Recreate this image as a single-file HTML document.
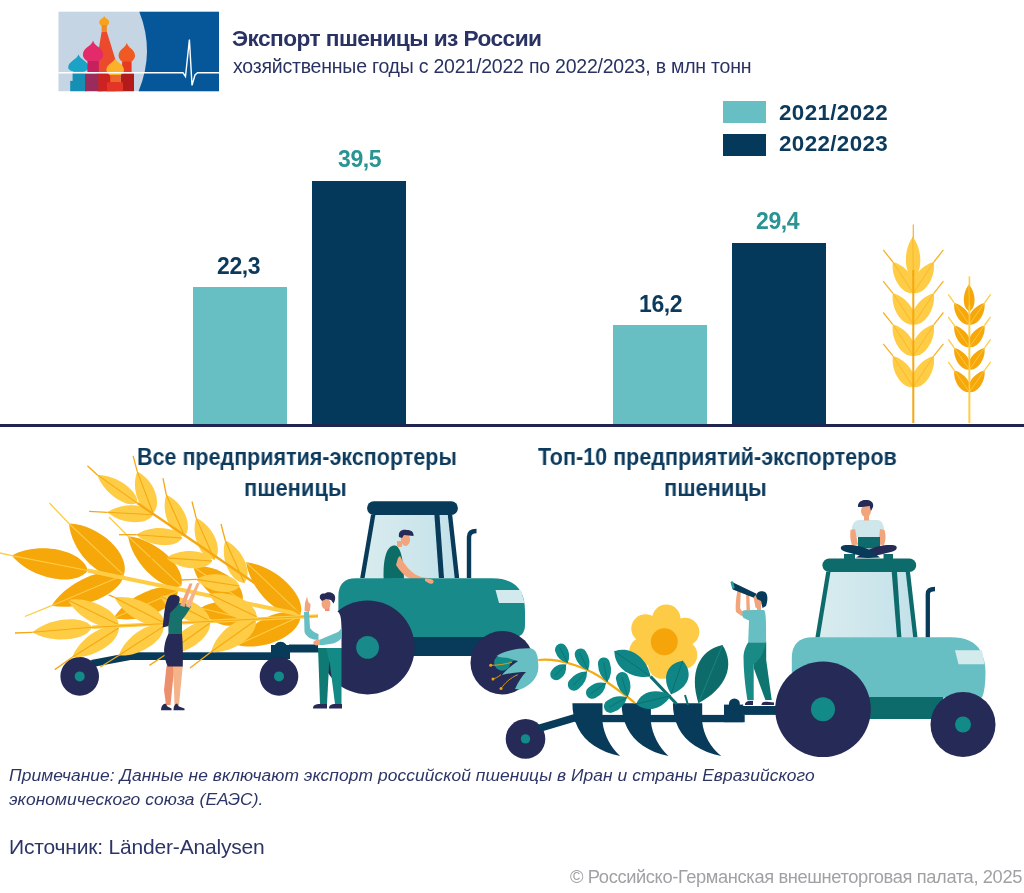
<!DOCTYPE html>
<html><head><meta charset="utf-8">
<style>
html,body{margin:0;padding:0;background:#fff;}
body{width:1024px;height:893px;position:relative;overflow:hidden;font-family:"Liberation Sans",sans-serif;}
.t{position:absolute;white-space:nowrap;line-height:1;will-change:transform;}
#title{left:232px;top:27.2px;font-size:22.7px;font-weight:bold;color:#2a3263;letter-spacing:-0.57px;}
#sub{left:233px;top:56.6px;font-size:19.5px;color:#2a3263;letter-spacing:-0.22px;}
.leg{left:779px;font-size:22.4px;font-weight:bold;color:#0b3a5c;letter-spacing:0.36px;}
.sw{position:absolute;left:723px;width:43px;height:22px;}
.bar{position:absolute;}
.lt{background:#67bfc4;}
.dk{background:#05395c;}
.val{font-size:23px;font-weight:bold;letter-spacing:-0.4px;}
.cat{font-size:23.5px;font-weight:bold;color:#0d3b5e;transform-origin:0 0;}
#note{left:9px;top:763.7px;font-size:17.4px;letter-spacing:0.07px;font-style:italic;color:#2d3566;line-height:23.5px;}
#src{left:9px;top:836px;font-size:21px;letter-spacing:-0.18px;color:#2d3566;}
#copy{left:570px;top:867.9px;font-size:18.3px;color:#a0a1a5;letter-spacing:-0.37px;}
svg{position:absolute;left:0;top:0;}
</style></head><body>
<svg width="1024" height="893" viewBox="0 0 1024 893">
<g>
<rect x="58.5" y="11.7" width="160.5" height="79.5" fill="#c6d5e4"/>
<path d="M139.3 11.7 Q155 51.5 138.6 91.2 L219 91.2 L219 11.7Z" fill="#06579a"/>
<path d="M78.5 54.2 C79.7 59.6 88.8 60.9 88.8 67.6 C88.8 70.1 84.2 71.8 83.1 71.8 L73.9 71.8 C72.8 71.8 68.2 70.1 68.2 67.6 C68.2 60.9 77.3 59.6 78.5 54.2Z" fill="#1aa3c6"/>
<rect x="72.6" y="71.8" width="12.8" height="9.2" fill="#1590b4"/><rect x="70.2" y="80.9" width="16.7" height="10.3" fill="#1590b4"/>
<path d="M101.6 31.9 L106.9 31.9 L115.4 59.5 L115.4 91.2 L96.9 91.2 L96.9 59.5Z" fill="#ec4a2c"/>
<path d="M104.2 15.7 C104.8 18.4 109.2 19 109.2 22.4 C109.2 24.4 107 25.7 106.5 25.7 L102 25.7 C101.5 25.7 99.2 24.4 99.2 22.4 C99.2 19 103.6 18.4 104.2 15.7Z" fill="#f7a21c"/>
<rect x="101.6" y="25" width="5.3" height="7" fill="#f08a28"/>
<path d="M93 40.4 C94.2 46.1 103.1 47.5 103.1 54.7 C103.1 58.7 98.6 61.4 97.5 61.4 L88.5 61.4 C87.4 61.4 82.9 58.7 82.9 54.7 C82.9 47.5 91.8 46.1 93 40.4Z" fill="#e32a6a"/>
<rect x="87.4" y="61" width="11.4" height="11" fill="#c72060"/><rect x="85" y="73.3" width="17.6" height="17.9" fill="#9a2c5c"/>
<path d="M126.8 42.8 C127.8 48 135 49.2 135 55.7 C135 59.4 131.3 61.9 130.5 61.9 L123.1 61.9 C122.3 61.9 118.6 59.4 118.6 55.7 C118.6 49.2 125.8 48 126.8 42.8Z" fill="#f05a22"/>
<rect x="122.1" y="61.5" width="9.5" height="10.5" fill="#e63a22"/><rect x="120.7" y="73.3" width="13.3" height="17.9" fill="#b31a1a"/>
<rect x="98.3" y="73.3" width="22" height="17.9" fill="#cc2222"/>
<path d="M115.2 58 C116.3 62.8 124 64 124 70 C124 73.4 120 75.6 119.2 75.6 L111.2 75.6 C110.4 75.6 106.4 73.4 106.4 70 C106.4 64 114.1 62.8 115.2 58Z" fill="#fbb12a"/>
<rect x="110.2" y="75" width="10.4" height="7.5" fill="#f0652a"/><rect x="106.9" y="82.3" width="16.1" height="8.9" fill="#e23526"/>
<polyline points="58.5,72.8 183,72.8 185.5,76.5 189.4,39.5 192,85.4 195,75 197.5,72.8 219,72.8" fill="none" stroke="#fff" stroke-width="1.4"/>
</g>
<line x1="913.3" y1="224.6" x2="913.3" y2="240" stroke="#f6b228" stroke-width="1.2"/>
<path d="M912.8 236.7 C903.3 249.2 903.6 273.2 913.3 278 C922.9 272.9 922.6 249 912.8 236.7Z" fill="#fecd45"/><line x1="912.8" y1="236.7" x2="913.3" y2="278" stroke="#f6b228" stroke-width="0.8"/>
<path d="M892.9 262 C890.4 277 902.2 295.1 913.3 293.2 C919.5 283.8 907.7 265.7 892.9 262Z" fill="#fecd45"/><line x1="892.9" y1="262" x2="913.3" y2="293.2" stroke="#f6b228" stroke-width="0.8"/><line x1="892.9" y1="262" x2="883.2" y2="249.9" stroke="#f6b228" stroke-width="1.3"/>
<path d="M933.8 262 C919 265.7 907.1 283.8 913.3 293.2 C924.4 295.1 936.3 277 933.8 262Z" fill="#fecd45"/><line x1="933.8" y1="262" x2="913.3" y2="293.2" stroke="#f6b228" stroke-width="0.8"/><line x1="933.8" y1="262" x2="943.4" y2="249.9" stroke="#f6b228" stroke-width="1.3"/>
<path d="M892.9 293.3 C890.4 308.3 902.2 326.4 913.3 324.5 C919.5 315.1 907.7 297 892.9 293.3Z" fill="#fecd45"/><line x1="892.9" y1="293.3" x2="913.3" y2="324.5" stroke="#f6b228" stroke-width="0.8"/><line x1="892.9" y1="293.3" x2="883.2" y2="281.2" stroke="#f6b228" stroke-width="1.3"/>
<path d="M933.8 293.3 C919 297 907.1 315.1 913.3 324.5 C924.4 326.4 936.3 308.3 933.8 293.3Z" fill="#fecd45"/><line x1="933.8" y1="293.3" x2="913.3" y2="324.5" stroke="#f6b228" stroke-width="0.8"/><line x1="933.8" y1="293.3" x2="943.4" y2="281.2" stroke="#f6b228" stroke-width="1.3"/>
<path d="M892.9 324.6 C890.4 339.6 902.2 357.7 913.3 355.8 C919.5 346.4 907.7 328.3 892.9 324.6Z" fill="#fecd45"/><line x1="892.9" y1="324.6" x2="913.3" y2="355.8" stroke="#f6b228" stroke-width="0.8"/><line x1="892.9" y1="324.6" x2="883.2" y2="312.5" stroke="#f6b228" stroke-width="1.3"/>
<path d="M933.8 324.6 C919 328.3 907.1 346.4 913.3 355.8 C924.4 357.7 936.3 339.6 933.8 324.6Z" fill="#fecd45"/><line x1="933.8" y1="324.6" x2="913.3" y2="355.8" stroke="#f6b228" stroke-width="0.8"/><line x1="933.8" y1="324.6" x2="943.4" y2="312.5" stroke="#f6b228" stroke-width="1.3"/>
<path d="M892.9 355.9 C890.4 370.9 902.2 389 913.3 387.1 C919.5 377.7 907.7 359.6 892.9 355.9Z" fill="#fecd45"/><line x1="892.9" y1="355.9" x2="913.3" y2="387.1" stroke="#f6b228" stroke-width="0.8"/><line x1="892.9" y1="355.9" x2="883.2" y2="343.8" stroke="#f6b228" stroke-width="1.3"/>
<path d="M933.8 355.9 C919 359.6 907.1 377.7 913.3 387.1 C924.4 389 936.3 370.9 933.8 355.9Z" fill="#fecd45"/><line x1="933.8" y1="355.9" x2="913.3" y2="387.1" stroke="#f6b228" stroke-width="0.8"/><line x1="933.8" y1="355.9" x2="943.4" y2="343.8" stroke="#f6b228" stroke-width="1.3"/>
<line x1="913.3" y1="270" x2="913.3" y2="423" stroke="#f6a70a" stroke-width="2"/>
<line x1="969.4" y1="276.4" x2="969.4" y2="423" stroke="#fecd45" stroke-width="1.6"/>
<path d="M968.9 284.8 C961.9 292.9 962.1 308.3 969.4 311.3 C976.5 308 976.2 292.6 968.9 284.8Z" fill="#f6a70a"/><line x1="968.9" y1="284.8" x2="969.4" y2="311.3" stroke="#fecd45" stroke-width="0.8"/>
<path d="M954.3 302.9 C952.8 313.6 961.6 326.1 969.4 324.5 C973.6 317.7 964.8 305.2 954.3 302.9Z" fill="#f6a70a"/><line x1="954.3" y1="302.9" x2="969.4" y2="324.5" stroke="#fecd45" stroke-width="0.8"/><line x1="954.3" y1="302.9" x2="948.2" y2="294.4" stroke="#fecd45" stroke-width="1.3"/>
<path d="M984.5 302.9 C974 305.2 965.2 317.7 969.4 324.5 C977.2 326.1 986 313.6 984.5 302.9Z" fill="#f6a70a"/><line x1="984.5" y1="302.9" x2="969.4" y2="324.5" stroke="#fecd45" stroke-width="0.8"/><line x1="984.5" y1="302.9" x2="990.6" y2="294.4" stroke="#fecd45" stroke-width="1.3"/>
<path d="M954.3 325.4 C952.8 336.1 961.6 348.6 969.4 347 C973.6 340.2 964.8 327.7 954.3 325.4Z" fill="#f6a70a"/><line x1="954.3" y1="325.4" x2="969.4" y2="347" stroke="#fecd45" stroke-width="0.8"/><line x1="954.3" y1="325.4" x2="948.2" y2="316.9" stroke="#fecd45" stroke-width="1.3"/>
<path d="M984.5 325.4 C974 327.7 965.2 340.2 969.4 347 C977.2 348.6 986 336.1 984.5 325.4Z" fill="#f6a70a"/><line x1="984.5" y1="325.4" x2="969.4" y2="347" stroke="#fecd45" stroke-width="0.8"/><line x1="984.5" y1="325.4" x2="990.6" y2="316.9" stroke="#fecd45" stroke-width="1.3"/>
<path d="M954.3 347.9 C952.8 358.6 961.6 371.1 969.4 369.5 C973.6 362.7 964.8 350.2 954.3 347.9Z" fill="#f6a70a"/><line x1="954.3" y1="347.9" x2="969.4" y2="369.5" stroke="#fecd45" stroke-width="0.8"/><line x1="954.3" y1="347.9" x2="948.2" y2="339.4" stroke="#fecd45" stroke-width="1.3"/>
<path d="M984.5 347.9 C974 350.2 965.2 362.7 969.4 369.5 C977.2 371.1 986 358.6 984.5 347.9Z" fill="#f6a70a"/><line x1="984.5" y1="347.9" x2="969.4" y2="369.5" stroke="#fecd45" stroke-width="0.8"/><line x1="984.5" y1="347.9" x2="990.6" y2="339.4" stroke="#fecd45" stroke-width="1.3"/>
<path d="M954.3 370.4 C952.8 381.1 961.6 393.6 969.4 392 C973.6 385.2 964.8 372.7 954.3 370.4Z" fill="#f6a70a"/><line x1="954.3" y1="370.4" x2="969.4" y2="392" stroke="#fecd45" stroke-width="0.8"/><line x1="954.3" y1="370.4" x2="948.2" y2="361.9" stroke="#fecd45" stroke-width="1.3"/>
<path d="M984.5 370.4 C974 372.7 965.2 385.2 969.4 392 C977.2 393.6 986 381.1 984.5 370.4Z" fill="#f6a70a"/><line x1="984.5" y1="370.4" x2="969.4" y2="392" stroke="#fecd45" stroke-width="0.8"/><line x1="984.5" y1="370.4" x2="990.6" y2="361.9" stroke="#fecd45" stroke-width="1.3"/>
<line x1="969.4" y1="305" x2="969.4" y2="423" stroke="#fecd45" stroke-width="1.6"/>
<path d="M93 667 L130.6 660 L130.6 652.5 L91 660Z" fill="#083a5a"/>
<rect x="130" y="652.3" width="150" height="7.7" fill="#083a5a"/>
<rect x="271" y="645" width="19" height="14" fill="#083a5a"/><circle cx="280.6" cy="649" r="7.2" fill="#083a5a"/>
<rect x="289" y="644.5" width="33" height="8" fill="#083a5a"/>
<circle cx="79.7" cy="676.4" r="19.3" fill="#252a56"/><circle cx="79.7" cy="676.4" r="5" fill="#128a88"/>
<circle cx="279" cy="676.4" r="19.3" fill="#252a56"/><circle cx="279" cy="676.4" r="5" fill="#128a88"/>
<path d="M11.8 555.6 C30.9 579.1 74.9 587.8 87.8 570.5 C82.4 549.7 38.3 541 11.8 555.6Z" fill="#f6a70a"/><line x1="11.8" y1="555.6" x2="87.8" y2="570.5" stroke="#fdcb45" stroke-width="1.1"/><line x1="11.8" y1="555.6" x2="0" y2="553" stroke="#fdcb45" stroke-width="1.3"/>
<path d="M69 523.5 C71.6 553.7 103.4 583.7 123.8 575.2 C131.1 554.3 99.3 524.3 69 523.5Z" fill="#f6a70a"/><line x1="69" y1="523.5" x2="123.8" y2="575.2" stroke="#fdcb45" stroke-width="1.1"/><line x1="69" y1="523.5" x2="49.4" y2="503" stroke="#fdcb45" stroke-width="1.3"/>
<path d="M51.5 605.7 C79.6 611.6 121.5 593.8 123.7 575 C108.6 563.6 66.7 581.4 51.5 605.7Z" fill="#f6a70a"/><line x1="51.5" y1="605.7" x2="123.7" y2="575" stroke="#fdcb45" stroke-width="1.1"/><line x1="51.5" y1="605.7" x2="24.9" y2="616.5" stroke="#fdcb45" stroke-width="1.3"/>
<path d="M128.1 536.3 C132.3 563.8 163.2 592.7 181.3 586.1 C186.7 567.6 155.8 538.7 128.1 536.3Z" fill="#f6a70a"/><line x1="128.1" y1="536.3" x2="181.3" y2="586.1" stroke="#fdcb45" stroke-width="1.1"/><line x1="128.1" y1="536.3" x2="109" y2="517" stroke="#fdcb45" stroke-width="1.3"/>
<path d="M113.7 618.1 C139.1 624.4 176.4 608.7 178 591 C164.2 579.8 126.9 595.5 113.7 618.1Z" fill="#f6a70a"/><line x1="113.7" y1="618.1" x2="178" y2="591" stroke="#fdcb45" stroke-width="1.1"/><line x1="113.7" y1="618.1" x2="95" y2="627" stroke="#fdcb45" stroke-width="1.3"/>
<path d="M193.4 566.7 C198.8 590.5 227.3 610.4 242.6 601 C246.1 583.4 217.6 563.5 193.4 566.7Z" fill="#f6a70a"/><line x1="193.4" y1="566.7" x2="242.6" y2="601" stroke="#fdcb45" stroke-width="1.1"/>
<path d="M200.4 608 C210.1 625.7 235.6 631.8 244.4 618.6 C242.6 602.8 217.1 596.7 200.4 608Z" fill="#f6a70a"/><line x1="200.4" y1="608" x2="244.4" y2="618.6" stroke="#fdcb45" stroke-width="1.1"/>
<path d="M246.1 562.3 C250.1 590.8 281.7 620.9 300.6 614.2 C306.4 595 274.8 564.9 246.1 562.3Z" fill="#f6a70a"/><line x1="246.1" y1="562.3" x2="300.6" y2="614.2" stroke="#fdcb45" stroke-width="1.1"/>
<path d="M237.3 644.9 C263.4 651.9 300.1 635.1 300.6 616 C285.9 603.8 249.2 620.6 237.3 644.9Z" fill="#f6a70a"/><line x1="237.3" y1="644.9" x2="300.6" y2="616" stroke="#fdcb45" stroke-width="1.1"/>
<path d="M87.8 570.5 L300.6 614.5" stroke="#fecd45" stroke-width="4" fill="none"/>
<path d="M97.4 474.9 C103 492.3 126.2 508.7 137.3 503.1 C138.9 490.7 115.7 474.4 97.4 474.9Z" fill="#fecd45"/><line x1="97.4" y1="474.9" x2="137.3" y2="503.1" stroke="#f5a814" stroke-width="1.1"/><line x1="97.4" y1="474.9" x2="87.4" y2="465.8" stroke="#f5a814" stroke-width="1.3"/>
<path d="M137.3 471.6 C130.4 488.4 139.5 512.5 153 513 C162.8 503.6 153.7 479.6 137.3 471.6Z" fill="#fecd45"/><line x1="137.3" y1="471.6" x2="153" y2="513" stroke="#f5a814" stroke-width="1.1"/><line x1="137.3" y1="471.6" x2="133.1" y2="455.8" stroke="#f5a814" stroke-width="1.3"/>
<path d="M107.4 512.3 C120.5 524.4 146.9 525.8 153 514.8 C148.2 503.2 121.7 501.7 107.4 512.3Z" fill="#fecd45"/><line x1="107.4" y1="512.3" x2="153" y2="514.8" stroke="#f5a814" stroke-width="1.1"/><line x1="107.4" y1="512.3" x2="89.1" y2="511.4" stroke="#f5a814" stroke-width="1.3"/>
<path d="M166.3 494.8 C160.4 512.3 171 536.4 184.6 536.3 C193.8 526.3 183.2 502.2 166.3 494.8Z" fill="#fecd45"/><line x1="166.3" y1="494.8" x2="184.6" y2="536.3" stroke="#f5a814" stroke-width="1.1"/><line x1="166.3" y1="494.8" x2="163" y2="478.2" stroke="#f5a814" stroke-width="1.3"/>
<path d="M136.4 534.7 C149.3 547 175.7 548.9 182 538 C177.3 526.3 150.9 524.4 136.4 534.7Z" fill="#fecd45"/><line x1="136.4" y1="534.7" x2="182" y2="538" stroke="#f5a814" stroke-width="1.1"/><line x1="136.4" y1="534.7" x2="119" y2="534.7" stroke="#f5a814" stroke-width="1.3"/>
<path d="M196.2 518.1 C190.3 535.6 200.9 559.7 214.5 559.6 C223.7 549.6 213.1 525.5 196.2 518.1Z" fill="#fecd45"/><line x1="196.2" y1="518.1" x2="214.5" y2="559.6" stroke="#f5a814" stroke-width="1.1"/><line x1="196.2" y1="518.1" x2="192" y2="501.5" stroke="#f5a814" stroke-width="1.3"/>
<path d="M166.3 557.9 C179.2 570.2 205.7 572 212 561 C207.3 549.3 180.8 547.5 166.3 557.9Z" fill="#fecd45"/><line x1="166.3" y1="557.9" x2="212" y2="561" stroke="#f5a814" stroke-width="1.1"/><line x1="166.3" y1="557.9" x2="150" y2="558" stroke="#f5a814" stroke-width="1.3"/>
<path d="M225.3 540.5 C219.6 558.3 230.6 582.8 244.3 582.8 C253.4 572.6 242.4 548.1 225.3 540.5Z" fill="#fecd45"/><line x1="225.3" y1="540.5" x2="244.3" y2="582.8" stroke="#f5a814" stroke-width="1.1"/><line x1="225.3" y1="540.5" x2="221" y2="524" stroke="#f5a814" stroke-width="1.3"/>
<path d="M196.2 579.4 C207.4 592.6 232.5 596.4 239.4 586 C235.9 574 210.9 570.1 196.2 579.4Z" fill="#fecd45"/><line x1="196.2" y1="579.4" x2="239.4" y2="586" stroke="#f5a814" stroke-width="1.1"/><line x1="196.2" y1="579.4" x2="180" y2="580" stroke="#f5a814" stroke-width="1.3"/>
<path d="M137.3 503.1 L300 614" stroke="#f5a814" stroke-width="2.4" fill="none"/>
<path d="M32.4 632.3 C51.4 644 86 641.1 92.1 627.3 C83.8 614.7 49.2 617.6 32.4 632.3Z" fill="#fecd45"/><line x1="32.4" y1="632.3" x2="92.1" y2="627.3" stroke="#f5a814" stroke-width="1.1"/><line x1="32.4" y1="632.3" x2="15" y2="633" stroke="#f5a814" stroke-width="1.3"/>
<path d="M68 599.9 C77.7 618.6 107.1 633 118.7 624.8 C118.1 610.6 88.7 596.2 68 599.9Z" fill="#fecd45"/><line x1="68" y1="599.9" x2="118.7" y2="624.8" stroke="#f5a814" stroke-width="1.1"/>
<path d="M72.2 657.2 C92.8 659 119.7 642.1 118.7 628 C106.5 620.9 79.5 637.9 72.2 657.2Z" fill="#fecd45"/><line x1="72.2" y1="657.2" x2="118.7" y2="628" stroke="#f5a814" stroke-width="1.1"/><line x1="72.2" y1="657.2" x2="54.8" y2="669.6" stroke="#f5a814" stroke-width="1.3"/>
<path d="M114.5 597.4 C123.7 616.2 152.6 631.1 164.3 623.1 C164 608.9 135.2 594 114.5 597.4Z" fill="#fecd45"/><line x1="114.5" y1="597.4" x2="164.3" y2="623.1" stroke="#f5a814" stroke-width="1.1"/><line x1="114.5" y1="597.4" x2="108.7" y2="594.9" stroke="#f5a814" stroke-width="1.3"/>
<path d="M118.7 655.5 C138.9 657.2 164.9 640.3 163.5 626.4 C151.3 619.4 125.3 636.3 118.7 655.5Z" fill="#fecd45"/><line x1="118.7" y1="655.5" x2="163.5" y2="626.4" stroke="#f5a814" stroke-width="1.1"/><line x1="118.7" y1="655.5" x2="100.4" y2="667" stroke="#f5a814" stroke-width="1.3"/>
<path d="M160 596 C169.4 614.7 198.4 629.2 210 621 C209.6 606.8 180.6 592.3 160 596Z" fill="#fecd45"/><line x1="160" y1="596" x2="210" y2="621" stroke="#f5a814" stroke-width="1.1"/><line x1="160" y1="596" x2="155" y2="593" stroke="#f5a814" stroke-width="1.3"/>
<path d="M165 655 C185.7 655.6 211.8 637 210 623 C197.4 616.7 171.3 635.2 165 655Z" fill="#fecd45"/><line x1="165" y1="655" x2="210" y2="623" stroke="#f5a814" stroke-width="1.1"/><line x1="165" y1="655" x2="149.4" y2="665.4" stroke="#f5a814" stroke-width="1.3"/>
<path d="M209.2 594 C217.7 612.7 245.3 626 256.7 616.8 C256.7 602.2 229.2 588.9 209.2 594Z" fill="#fecd45"/><line x1="209.2" y1="594" x2="256.7" y2="616.8" stroke="#f5a814" stroke-width="1.1"/>
<path d="M211 652 C232.5 653.9 258.5 635.5 255.8 620.3 C242.4 612.7 216.4 631.1 211 652Z" fill="#fecd45"/><line x1="211" y1="652" x2="255.8" y2="620.3" stroke="#f5a814" stroke-width="1.1"/><line x1="211" y1="652" x2="190" y2="668" stroke="#f5a814" stroke-width="1.3"/>
<path d="M92.1 627.3 L318 616" stroke="#fecd45" stroke-width="3.5" fill="none"/><path d="M92.1 627.3 L318 616" stroke="#f5a814" stroke-width="1" fill="none"/>
<defs><linearGradient id="gl" x1="0" x2="1" y1="0" y2="0"><stop offset="0" stop-color="#d9ecee"/><stop offset="1" stop-color="#c3e1ea"/></linearGradient></defs>
<path d="M373 514 L450 514 L457.5 578 L362 578Z" fill="url(#gl)"/>
<path d="M371 514.7 L375.4 514.7 L364.6 578 L360.2 578Z" fill="#083a5a"/>
<path d="M434.4 514.7 L439.5 514.7 L444 578 L438.9 578Z" fill="#083a5a"/>
<path d="M447.8 514.7 L452.2 514.7 L459.2 578 L454.7 578Z" fill="#083a5a"/>
<rect x="367.1" y="501.3" width="90.8" height="13.6" rx="6.6" fill="#083a5a"/>
<path d="M469 578 L469 537 Q469 531 476.5 531" stroke="#083a5a" stroke-width="4.4" fill="none"/>
<path d="M383.6 579 C383 560 386 547 393.5 545.5 C399 545 403 552 404 578.8Z" fill="#0c6d66"/>
<path d="M398 558 L400 556 C410 575 420 578 430 578 L433 582 C420 585 405 580 396 565Z" fill="#f2a57d"/>
<rect x="397" y="541" width="5" height="6" fill="#f2a57d"/>
<ellipse cx="405.5" cy="539.5" rx="4.6" ry="6.5" fill="#f2a57d"/>
<path d="M399 537 C398 531 402 529 407 530 C411 530 414 532 413.5 536 L404 535 L402 538Z" fill="#252a56"/>
<path d="M338.4 640 L338.4 596 Q338.4 578.2 356 578.2 L492 578.2 Q525 578.2 525 611 L525 625 Q525 637.5 512 637.5 L338.4 637.5Z" fill="#178a89"/>
<path d="M425 578.5 C428 578.5 431 578.5 433 580 C434.5 582 433 584 431 583.8 C429 583.5 427 582 425 581Z" fill="#f2a57d"/>
<path d="M495.5 590 L521 590 L524.5 603 L499 603Z" fill="#d2e9ed"/>
<rect x="400" y="637" width="84" height="19" fill="#083a5a"/>
<circle cx="367.6" cy="647.4" r="47" fill="#252a56"/><circle cx="367.6" cy="647.4" r="11.4" fill="#178a89"/>
<circle cx="502.2" cy="662.7" r="31.7" fill="#252a56"/><circle cx="502.2" cy="662.7" r="8" fill="#178a89"/>
<path d="M166.5 666 L164 690 L166 705 L170.5 705 L173 680 L175 666Z" fill="#ec8f6c"/>
<path d="M173 666 L174 690 L174.5 705 L179 705 L181 684 L182.8 666Z" fill="#f5b389"/>
<path d="M161 710.3 C161 706.5 162.5 704 165.5 703.5 L167.5 706.5 L171.5 708.5 L171.5 710.3Z" fill="#252a56"/>
<path d="M173.5 710.3 C173.5 706.5 174.5 704 177 703.5 L179 706.5 L184.5 708.5 L184.5 710.3Z" fill="#252a56"/>
<path d="M168.5 633.5 L182 633.5 C183 645 183 655 182.8 666.6 L167.6 666.6 C165 660 163.5 652 164.3 647.3 C165 641 167 637 168.5 633.5Z" fill="#252a56"/>
<path d="M168.5 634 L168 610 C169 604 173 602.5 178 603 L185 603.5 L191.2 606.5 L186.5 614 L182 620 L182 634Z" fill="#16726a"/>
<path d="M180 605.5 L189.5 583.5 L192.5 583.5 L184.5 607Z" fill="#f2a57d"/>
<path d="M185.5 606 L197 583 L200 582.5 L190 608Z" fill="#f5b389"/>
<path d="M162.6 627.5 C164 617 164.5 603 168.5 597 C171 594 176 594 179 596.5 C180.5 599 179.5 603 177 606 L170 613 L168.5 626Z" fill="#252a56"/>
<path d="M313 708.4 C313 705 316 704 320 704 L327 704 L327 708.4Z M329 708.4 C329 705 332 704 335 704 L342 704 L342 708.4Z" fill="#252a56"/>
<path d="M318 647 L330 647 L327 704 L320 704Z" fill="#0f7a74"/>
<path d="M326 647 L341.5 647 L341.5 704 L335 704 L330 665Z" fill="#138a86"/>
<path d="M318.5 612 C321 610 326 609.5 330 610 L336 610.5 C340 612 341.5 616 341.5 630 L341.5 648 L318 648 Z" fill="#ffffff"/>
<path d="M304 612 L309 611 L310 628 C312 631 315 633 318.5 634 L318.5 640 C312 640 306 637 304.5 632Z" fill="#67bfc3"/>
<path d="M319 640 L338 632 C340 630 341.5 629 341.5 626 L341.5 638 C338 643 330 645 319 645Z" fill="#67bfc3"/>
<path d="M313 643 C314 640 317 639.5 320 640 L320 645 L316 645.5Z" fill="#f2a57d"/>
<path d="M304.5 611 L305 603 L307 596.5 L308.3 602 L310.5 604 L310 611Z" fill="#f2a57d"/>
<rect x="325" y="606" width="4.5" height="5" fill="#f08a7a"/><ellipse cx="326" cy="603.8" rx="4.5" ry="5.5" fill="#f2a57d"/>
<path d="M320 598.5 C319 595 321.5 593 325 593.5 C327 591.5 331.5 591.8 333.5 594 C336 596 335.5 600.5 333.5 603.5 L331 600 L326 599 L322 601Z" fill="#252a56"/>
<circle cx="525.5" cy="738.9" r="19.8" fill="#252a56"/><circle cx="525.5" cy="738.9" r="4.7" fill="#128a88"/>
<path d="M537 725 L576 713.5 L577 721 L540 732Z" fill="#083a5a"/>
<rect x="574.7" y="714.9" width="170" height="7.3" fill="#083a5a"/>
<rect x="724" y="704.6" width="19.2" height="17.6" fill="#083a5a"/><circle cx="734.4" cy="704" r="5.5" fill="#083a5a"/>
<rect x="742" y="706" width="40" height="8.9" fill="#083a5a"/>
<path d="M572.4 703.2 L602.5 703.2 L602.5 722 C604 735 610.5 747 620.1 756 C600.1 752 585 742 578 728 C574 720 572.4 712 572.4 703.2Z" fill="#083a5a"/>
<path d="M621.6 703.2 L650.9 703.2 L650.9 722 C652.4 735 658.9 747 668.5 756 C648.5 752 634.2 742 627.2 728 C623.2 720 621.6 712 621.6 703.2Z" fill="#083a5a"/>
<path d="M672.9 703.2 L702.2 703.2 L702.2 722 C703.7 735 710.2 747 721.2 756 C701.2 752 685.5 742 678.5 728 C674.5 720 672.9 712 672.9 703.2Z" fill="#083a5a"/>
<circle cx="666.3" cy="618.8" r="14.2" fill="#fdcb45"/>
<circle cx="685.1" cy="632" r="14.2" fill="#fdcb45"/>
<circle cx="683.1" cy="654.9" r="14.2" fill="#fdcb45"/>
<circle cx="662.3" cy="664.6" r="14.2" fill="#fdcb45"/>
<circle cx="643.5" cy="651.4" r="14.2" fill="#fdcb45"/>
<circle cx="645.5" cy="628.5" r="14.2" fill="#fdcb45"/>
<circle cx="664.3" cy="641.7" r="21" fill="#fdcb45"/>
<circle cx="664.3" cy="641.7" r="13.5" fill="#f5a50a"/>
<path d="M538.3 660 C560 658 590 668 607 682 C618 690 628 697 635 703" stroke="#f2ab12" stroke-width="2.2" fill="none"/>
<path d="M567.6 663 Q571.5 653.9 566.1 646.4 A6 6 0 0 0 555.4 651.7 Q558 660.5 567.6 663Z" fill="#0f8a89"/><line x1="567.6" y1="663" x2="560" y2="647.6" stroke="#0b6e6e" stroke-width="0.8"/>
<path d="M566 664.5 Q556.5 663.4 552 670.1 A6 6 0 0 0 560.5 678.6 Q567.1 674 566 664.5Z" fill="#0f8a89"/><line x1="566" y1="664.5" x2="554.8" y2="675.8" stroke="#0b6e6e" stroke-width="0.8"/>
<path d="M588.1 670.3 Q591.8 660.6 585.9 651.6 A6 6 0 0 0 575.1 656.8 Q578.3 667.1 588.1 670.3Z" fill="#0f8a89"/><line x1="588.1" y1="670.3" x2="579.9" y2="653.1" stroke="#0b6e6e" stroke-width="0.8"/>
<path d="M587 671.5 Q576.3 671.2 569.6 680.1 A6.2 6.2 0 0 0 578.4 688.9 Q587.3 682.2 587 671.5Z" fill="#0f8a89"/><line x1="587" y1="671.5" x2="573.1" y2="685.4" stroke="#0b6e6e" stroke-width="0.8"/>
<path d="M607.2 682 Q613.3 673.3 609.8 662.4 A6 6 0 0 0 598 664.6 Q598.5 676 607.2 682Z" fill="#0f8a89"/><line x1="607.2" y1="682" x2="603.7" y2="662.5" stroke="#0b6e6e" stroke-width="0.8"/>
<path d="M606 683 Q595.9 680.6 588.6 687.5 A6.2 6.2 0 0 0 595.8 697.7 Q604.8 693.4 606 683Z" fill="#0f8a89"/><line x1="606" y1="683" x2="590.9" y2="693.6" stroke="#0b6e6e" stroke-width="0.8"/>
<path d="M627.7 696.7 Q633 687.1 628.2 676.4 A6.2 6.2 0 0 0 616.2 680 Q618 691.6 627.7 696.7Z" fill="#0f8a89"/><line x1="627.7" y1="696.7" x2="621.9" y2="677.1" stroke="#0b6e6e" stroke-width="0.8"/>
<path d="M627 697.5 Q616.5 693.9 607.4 700.6 A6.5 6.5 0 0 0 613.5 712.1 Q624.1 708.2 627 697.5Z" fill="#0f8a89"/><line x1="627" y1="697.5" x2="609.2" y2="707" stroke="#0b6e6e" stroke-width="0.8"/>
<path d="M650.6 676.6 L676.6 704" stroke="#0e7171" stroke-width="3"/>
<path d="M614.4 651.3 C614.5 668.1 630.8 679.5 650.6 676.6 C646.5 657 630.2 645.7 614.4 651.3Z" fill="#0f8585"/><line x1="614.4" y1="651.3" x2="650.6" y2="676.6" stroke="#0b6a6a" stroke-width="0.8"/>
<path d="M682.7 660.8 C666.3 663.4 661.1 678.4 671.1 694.3 C688.8 688 694 673 682.7 660.8Z" fill="#0f8585"/><line x1="682.7" y1="660.8" x2="671.1" y2="694.3" stroke="#0b6a6a" stroke-width="0.8"/>
<path d="M636.2 704 C646.5 713.2 662.1 709.5 671 695.7 C656.9 687.4 641.2 691.1 636.2 704Z" fill="#0f8585"/><line x1="636.2" y1="704" x2="671" y2="695.7" stroke="#0b6a6a" stroke-width="0.8"/>
<path d="M685 695 L688 705" stroke="#0e7171" stroke-width="2"/>
<path d="M722.4 645.1 C698.6 650.2 689 673.5 698.4 703.2 C726 688.8 735.6 665.5 722.4 645.1Z" fill="#0d6b6a"/><line x1="722.4" y1="645.1" x2="698.4" y2="703.2" stroke="#1a8c8a" stroke-width="0.8"/>
<path d="M745 705 C745 702 747 701 750 701 L753 701 L753 705Z M761.5 705 C761.5 702 764 701.8 767 701.8 L774 702.5 L774 705Z" fill="#252a56"/>
<path d="M766.2 642.3 L766.2 660 L771.7 700 L765.4 700 L753.7 668 L753 650Z" fill="#0e7570"/>
<path d="M748.2 642.3 L766.2 642.3 C764 652 760 660 753.7 664.3 L753.7 700.3 L747.4 700.3 C745 685 743.5 670 743.5 656.4 C744 650 746 646 748.2 642.3Z" fill="#1a8a86"/>
<path d="M740.4 612.6 C742 610.5 745 610 748.2 610 L764 610 C766 612 766.2 620 766.2 642.3 L748.2 642.3 L749 620.4 L743.5 618Z" fill="#67bfc3"/>
<path d="M737.8 589 L741 589 L740 608 L743 613 L741.5 616 L736 612 C735 605 736.5 595 737.8 589Z" fill="#f2a57d"/>
<path d="M746 590 L749 590 L750 610.5 L746.5 610.5Z" fill="#f2a57d"/>
<path d="M731 581.5 L756.5 593.8 L754.5 598 L732.8 589.5Z" fill="#083a5a"/><path d="M730.4 582 L732.4 589 L734.8 588 L733 581.3Z" fill="#2a9d9a"/>
<path d="M753.7 598 C754 595 757 595 760 596 L761.5 604 L759 609.4 L755.5 607.5Z" fill="#f2a57d"/>
<rect x="757" y="605" width="4" height="5" fill="#f2a57d"/>
<path d="M756 596 C757 591 762 590.5 765 592 C768 594 768 600 766 606 L762.5 608 L761 601 L757 599Z" fill="#083a5a"/>
<path d="M828 571.8 L908 571.8 L915.5 637.5 L817.5 637.5Z" fill="url(#gl)"/>
<path d="M826.2 571.8 L830.5 571.8 L819.7 637.5 L815.4 637.5Z" fill="#0e6b6b"/>
<path d="M891.7 571.8 L897 571.8 L901.4 637.5 L897 637.5Z" fill="#0e6b6b"/>
<path d="M905.7 571.8 L910 571.8 L917.5 637.5 L913.2 637.5Z" fill="#0e6b6b"/>
<rect x="822.4" y="558.5" width="93.8" height="13.6" rx="6.8" fill="#0e6b6b"/>
<path d="M927.8 637.5 L927.8 594 Q927.8 589 935 589" stroke="#083a5a" stroke-width="4.3" fill="none"/>
<path d="M791.8 697.5 L791.8 658 Q791.8 637.3 813 637.3 L951 637.3 Q972 637.3 980 650 Q985.5 660 985.5 672 Q985.5 690 982 697.5Z" fill="#67bfc3"/>
<path d="M955 650.2 L982 650.2 L984.5 664.2 L958.5 664.2Z" fill="#d4ebee"/>
<rect x="869" y="697" width="74.3" height="22" fill="#0e6b6b"/>
<circle cx="823" cy="709.3" r="47.8" fill="#252a56"/><circle cx="823" cy="709.3" r="12" fill="#128a88"/>
<circle cx="963" cy="724.5" r="32.5" fill="#252a56"/><circle cx="963" cy="724.5" r="8" fill="#128a88"/>
<rect x="844" y="554" width="11" height="5.5" fill="#0e6b6b"/><rect x="883.5" y="554" width="9.5" height="5.5" fill="#0e6b6b"/>
<path d="M851.3 537 C851 526 853 520 860 520 L877 520 C883 520 885 527 884 537Z" fill="#cfe6ea"/>
<path d="M850.5 530 L855 529 L858 544.8 L852 545 C850 540 850 535 850.5 530Z" fill="#f2a57d"/>
<path d="M880 529 L884.5 530 C886 535 886 540 884 545 L878.5 544.8Z" fill="#f2a57d"/>
<rect x="858" y="537" width="22" height="11.5" fill="#0e6b6b"/>
<path d="M895 545.5 C888 544 876 546 868 550 L856 557.5 L868 558 C876 555 889 553 894 551 C897.5 549.5 897.5 546.5 895 545.5Z" fill="#252a56"/>
<path d="M843 545.5 C850 544 862 546 870 550 L880 557.5 L868 558 C860 555 848 553 843.5 551 C840 549.5 840 546.5 843 545.5Z" fill="#083a5a"/>
<ellipse cx="866" cy="511" rx="5" ry="6" fill="#f2a57d"/><rect x="864" y="515" width="5" height="5.5" fill="#f2a57d"/>
<path d="M858 507 C857.5 502 862 499.5 866 500 C871 500 874 502.5 873 507 L871 511 L869.5 506 L862 507Z" fill="#252a56"/>
<path d="M496.6 656 C505 650 520 648 530 648.3 C537 649 538.5 657 538.3 668 C538 678 530 686 520 689.4 L515 689 C518 682 522 676 526 672 C518 672 510 673 502 675 C506 670 512 665 518 661 C512 660 504 659 496.6 656Z" fill="#67bfc3"/>
<path d="M496 658 C502 657 510 658 514 660 C510 664 505 668 500 670 C497 666 496 662 496 658Z" fill="#128a88"/>
<path d="M512 662.3 C505 664 498 665.5 490.7 665.2 M501 674.7 C498 677 495 678.5 493 679 M517.8 674.7 C510 678 505 683 501 688.6" stroke="#e8a317" stroke-width="0.9" fill="none"/>
<circle cx="490.7" cy="665.2" r="1.5" fill="#e8a317"/><circle cx="493" cy="679" r="1.5" fill="#e8a317"/><circle cx="501" cy="688.6" r="1.5" fill="#e8a317"/>
</svg>

<div class="t" id="title">Экспорт пшеницы из России</div>
<div class="t" id="sub">хозяйственные годы с 2021/2022 по 2022/2023, в млн тонн</div>
<div class="sw lt" style="top:101px"></div>
<div class="sw dk" style="top:133.5px"></div>
<div class="t leg" style="top:101.6px">2021/2022</div>
<div class="t leg" style="top:132.8px">2022/2023</div>

<div class="bar lt" style="left:193px;top:287px;width:94px;height:139px"></div>
<div class="bar dk" style="left:312px;top:181px;width:94px;height:245px"></div>
<div class="bar lt" style="left:613px;top:325px;width:94px;height:101px"></div>
<div class="bar dk" style="left:732px;top:243px;width:94px;height:183px"></div>
<div style="position:absolute;left:0;top:424px;width:1024px;height:3px;background:#1f2550"></div>

<div class="t val" style="left:217px;top:255px;color:#0b3a5c">22,3</div>
<div class="t val" style="left:338px;top:147.5px;color:#2a9494">39,5</div>
<div class="t val" style="left:639px;top:293.4px;color:#0b3a5c">16,2</div>
<div class="t val" style="left:756px;top:210.2px;color:#2a9494">29,4</div>

<div class="t cat" style="left:137px;top:445.5px;transform:scaleX(0.915)">Все предприятия-экспортеры</div>
<div class="t cat" style="left:244px;top:476.6px;transform:scaleX(0.933)">пшеницы</div>
<div class="t cat" style="left:538px;top:445.5px;transform:scaleX(0.917)">Топ-10 предприятий-экспортеров</div>
<div class="t cat" style="left:664px;top:476.6px;transform:scaleX(0.933)">пшеницы</div>

<div class="t" id="note">Примечание: Данные не включают экспорт российской пшеницы в Иран и страны Евразийского<br>экономического союза (ЕАЭС).</div>
<div class="t" id="src">Источник: Länder-Analysen</div>
<div class="t" id="copy">© Российско-Германская внешнеторговая палата, 2025</div>
</body></html>
